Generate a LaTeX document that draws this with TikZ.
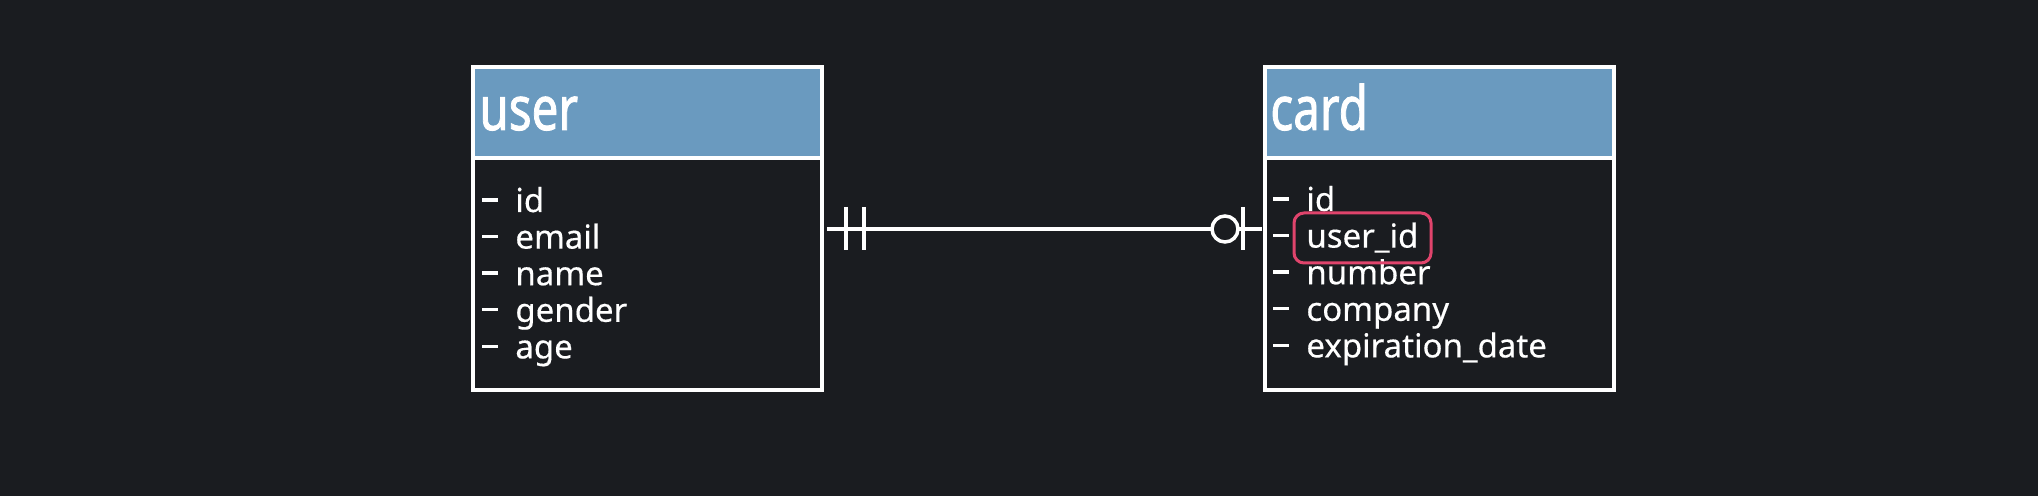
\documentclass[tikz,border=0pt]{standalone}
\usepackage{fontspec}
\setmainfont{Noto Sans}
\newfontfamily\fieldfont[FakeBold=0.4]{Noto Sans}
\newfontfamily\hdrfont[FakeBold=1.6]{Noto Sans}
\definecolor{bg}{HTML}{1A1C20}
\definecolor{hdr}{HTML}{6A9ABF}
\definecolor{hl}{HTML}{E0446C}
\newcommand{\fld}[1]{\makebox[16.5pt][l]{\rule[5.2pt]{8pt}{1.7pt}}#1}
\begin{document}
\begin{tikzpicture}[x=0.5pt,y=-0.5pt,
  box/.style={draw=white,line width=2pt,inner sep=0pt,outer sep=0pt,anchor=north west,minimum width=174.5pt},
  headbox/.style={box,fill=hdr,minimum height=45.5pt},
  bodybox/.style={box,minimum height=116pt},
  titletext/.style={anchor=base west,inner sep=0pt,text=white,font=\hdrfont\fontsize{30.5}{36}\selectfont},
  fieldtext/.style={anchor=base west,inner sep=0pt,text=white,font=\fieldfont\fontsize{16.5}{18.3}\selectfont},
  link/.style={draw=white,line width=1.75pt},
  hlbox/.style={draw=hl,line width=1.5pt,rounded corners=5pt,anchor=north west,inner sep=0pt,outer sep=0pt,minimum width=68.5pt,minimum height=25pt}]
\fill[bg] (0,0) rectangle (2038,496);
\useasboundingbox (0,0) rectangle (2038,496);
% user table
\node[headbox] (userh) at (473,67) {};
\node[bodybox] (userb) at (473,158) {};
\node[titletext] (usert) at (479,130) {\scalebox{0.78}[1]{user}};
\foreach \f [count=\i] in {id,email,name,gender,age}
  \node[fieldtext] (uf\i) at (482,{212+36.6*(\i-1)}) {\fld{\f}};
% card table
\node[headbox] (cardh) at (1265,67) {};
\node[bodybox] (cardb) at (1265,158) {};
\node[titletext] (cardt) at (1270,130) {\scalebox{0.78}[1]{card}};
\foreach \f [count=\i] in {id,user\_id,number,company,expiration\_date}
  \node[fieldtext] (cf\i) at (1273,{211+36.6*(\i-1)}) {\fld{\f}};
\node[hlbox] (hl) at (1294,213) {};
% relationship
\coordinate (la) at (827,229);
\coordinate (lb) at (1262,229);
\draw[link] (la) -- (lb);
\draw[link] (846,207) -- (846,250);
\draw[link] (864,207) -- (864,250);
\draw[link] (1243,207) -- (1243,250);
\draw[link,fill=bg] (1225,229) circle[radius=13];
\end{tikzpicture}
\end{document}
